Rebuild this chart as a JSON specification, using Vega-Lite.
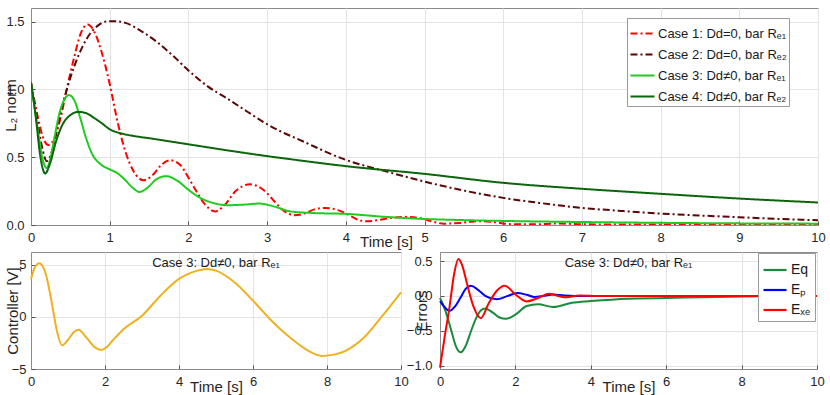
{
  "$schema": "https://vega.github.io/schema/vega-lite/v6.json",
  "padding": {"left": 2, "top": 7, "right": 5, "bottom": 0},
  "background": "white",
  "config": {
    "font": "Liberation Sans",
    "view": {"stroke": "#8a8a8a", "strokeWidth": 1},
    "axis": {"labelFontSize": 13, "labelColor": "#262626", "titleFontSize": 15, "titleFontWeight": "normal", "titleColor": "#262626", "domainColor": "#8a8a8a", "tickColor": "#555555", "gridColor": "#e3e3e3", "tickSize": -4, "labelPadding": 10, "labelFlush": false, "labelOverlap": false},
    "legend": {"labelFontSize": 13, "labelColor": "#1a1a1a", "fillColor": "white", "strokeColor": "#9a9a9a", "padding": 2, "symbolType": "stroke", "symbolStrokeWidth": 2.2, "title": null, "labelLimit": 300, "labelOffset": 3},
    "title": {"fontSize": 13, "fontWeight": "normal", "color": "#1a1a1a"}
  },
  "datasets": {
    "l2": [
      {"t":0,"v":1.05,"case":"Case 1: Dd=0, bar Rₑ₁"},{"t":0.05,"v":0.9,"case":"Case 1: Dd=0, bar Rₑ₁"},{"t":0.1,"v":0.76,"case":"Case 1: Dd=0, bar Rₑ₁"},{"t":0.15,"v":0.65,"case":"Case 1: Dd=0, bar Rₑ₁"},{"t":0.22,"v":0.59,"case":"Case 1: Dd=0, bar Rₑ₁"},{"t":0.3,"v":0.64,"case":"Case 1: Dd=0, bar Rₑ₁"},{"t":0.38,"v":0.8,"case":"Case 1: Dd=0, bar Rₑ₁"},{"t":0.45,"v":0.99,"case":"Case 1: Dd=0, bar Rₑ₁"},{"t":0.55,"v":1.24,"case":"Case 1: Dd=0, bar Rₑ₁"},{"t":0.63,"v":1.41,"case":"Case 1: Dd=0, bar Rₑ₁"},{"t":0.72,"v":1.478,"case":"Case 1: Dd=0, bar Rₑ₁"},{"t":0.8,"v":1.43,"case":"Case 1: Dd=0, bar Rₑ₁"},{"t":0.9,"v":1.27,"case":"Case 1: Dd=0, bar Rₑ₁"},{"t":1.0,"v":1.04,"case":"Case 1: Dd=0, bar Rₑ₁"},{"t":1.1,"v":0.76,"case":"Case 1: Dd=0, bar Rₑ₁"},{"t":1.2,"v":0.54,"case":"Case 1: Dd=0, bar Rₑ₁"},{"t":1.3,"v":0.4,"case":"Case 1: Dd=0, bar Rₑ₁"},{"t":1.43,"v":0.33,"case":"Case 1: Dd=0, bar Rₑ₁"},{"t":1.55,"v":0.37,"case":"Case 1: Dd=0, bar Rₑ₁"},{"t":1.65,"v":0.44,"case":"Case 1: Dd=0, bar Rₑ₁"},{"t":1.77,"v":0.477,"case":"Case 1: Dd=0, bar Rₑ₁"},{"t":1.9,"v":0.44,"case":"Case 1: Dd=0, bar Rₑ₁"},{"t":2.0,"v":0.35,"case":"Case 1: Dd=0, bar Rₑ₁"},{"t":2.1,"v":0.25,"case":"Case 1: Dd=0, bar Rₑ₁"},{"t":2.2,"v":0.16,"case":"Case 1: Dd=0, bar Rₑ₁"},{"t":2.34,"v":0.1,"case":"Case 1: Dd=0, bar Rₑ₁"},{"t":2.45,"v":0.14,"case":"Case 1: Dd=0, bar Rₑ₁"},{"t":2.6,"v":0.25,"case":"Case 1: Dd=0, bar Rₑ₁"},{"t":2.78,"v":0.3,"case":"Case 1: Dd=0, bar Rₑ₁"},{"t":2.95,"v":0.26,"case":"Case 1: Dd=0, bar Rₑ₁"},{"t":3.1,"v":0.17,"case":"Case 1: Dd=0, bar Rₑ₁"},{"t":3.2,"v":0.11,"case":"Case 1: Dd=0, bar Rₑ₁"},{"t":3.35,"v":0.072,"case":"Case 1: Dd=0, bar Rₑ₁"},{"t":3.5,"v":0.09,"case":"Case 1: Dd=0, bar Rₑ₁"},{"t":3.6,"v":0.115,"case":"Case 1: Dd=0, bar Rₑ₁"},{"t":3.74,"v":0.126,"case":"Case 1: Dd=0, bar Rₑ₁"},{"t":3.9,"v":0.11,"case":"Case 1: Dd=0, bar Rₑ₁"},{"t":4.05,"v":0.07,"case":"Case 1: Dd=0, bar Rₑ₁"},{"t":4.15,"v":0.04,"case":"Case 1: Dd=0, bar Rₑ₁"},{"t":4.27,"v":0.027,"case":"Case 1: Dd=0, bar Rₑ₁"},{"t":4.4,"v":0.035,"case":"Case 1: Dd=0, bar Rₑ₁"},{"t":4.55,"v":0.05,"case":"Case 1: Dd=0, bar Rₑ₁"},{"t":4.75,"v":0.06,"case":"Case 1: Dd=0, bar Rₑ₁"},{"t":4.95,"v":0.05,"case":"Case 1: Dd=0, bar Rₑ₁"},{"t":5.1,"v":0.025,"case":"Case 1: Dd=0, bar Rₑ₁"},{"t":5.25,"v":0.01,"case":"Case 1: Dd=0, bar Rₑ₁"},{"t":5.45,"v":0.015,"case":"Case 1: Dd=0, bar Rₑ₁"},{"t":5.7,"v":0.028,"case":"Case 1: Dd=0, bar Rₑ₁"},{"t":5.9,"v":0.02,"case":"Case 1: Dd=0, bar Rₑ₁"},{"t":6.1,"v":0.006,"case":"Case 1: Dd=0, bar Rₑ₁"},{"t":6.4,"v":0.005,"case":"Case 1: Dd=0, bar Rₑ₁"},{"t":6.7,"v":0.011,"case":"Case 1: Dd=0, bar Rₑ₁"},{"t":7.0,"v":0.005,"case":"Case 1: Dd=0, bar Rₑ₁"},{"t":7.5,"v":0.004,"case":"Case 1: Dd=0, bar Rₑ₁"},{"t":8.0,"v":0.003,"case":"Case 1: Dd=0, bar Rₑ₁"},{"t":9.0,"v":0.002,"case":"Case 1: Dd=0, bar Rₑ₁"},{"t":10.0,"v":0.002,"case":"Case 1: Dd=0, bar Rₑ₁"},
      {"t":0,"v":1.05,"case":"Case 2: Dd=0, bar Rₑ₂"},{"t":0.05,"v":0.88,"case":"Case 2: Dd=0, bar Rₑ₂"},{"t":0.1,"v":0.7,"case":"Case 2: Dd=0, bar Rₑ₂"},{"t":0.15,"v":0.55,"case":"Case 2: Dd=0, bar Rₑ₂"},{"t":0.2,"v":0.47,"case":"Case 2: Dd=0, bar Rₑ₂"},{"t":0.27,"v":0.55,"case":"Case 2: Dd=0, bar Rₑ₂"},{"t":0.35,"v":0.76,"case":"Case 2: Dd=0, bar Rₑ₂"},{"t":0.45,"v":0.99,"case":"Case 2: Dd=0, bar Rₑ₂"},{"t":0.55,"v":1.17,"case":"Case 2: Dd=0, bar Rₑ₂"},{"t":0.65,"v":1.31,"case":"Case 2: Dd=0, bar Rₑ₂"},{"t":0.75,"v":1.41,"case":"Case 2: Dd=0, bar Rₑ₂"},{"t":0.85,"v":1.47,"case":"Case 2: Dd=0, bar Rₑ₂"},{"t":0.95,"v":1.5,"case":"Case 2: Dd=0, bar Rₑ₂"},{"t":1.07,"v":1.503,"case":"Case 2: Dd=0, bar Rₑ₂"},{"t":1.2,"v":1.49,"case":"Case 2: Dd=0, bar Rₑ₂"},{"t":1.4,"v":1.43,"case":"Case 2: Dd=0, bar Rₑ₂"},{"t":1.6,"v":1.35,"case":"Case 2: Dd=0, bar Rₑ₂"},{"t":1.8,"v":1.25,"case":"Case 2: Dd=0, bar Rₑ₂"},{"t":2.0,"v":1.14,"case":"Case 2: Dd=0, bar Rₑ₂"},{"t":2.25,"v":1.02,"case":"Case 2: Dd=0, bar Rₑ₂"},{"t":2.5,"v":0.93,"case":"Case 2: Dd=0, bar Rₑ₂"},{"t":2.75,"v":0.835,"case":"Case 2: Dd=0, bar Rₑ₂"},{"t":3.0,"v":0.743,"case":"Case 2: Dd=0, bar Rₑ₂"},{"t":3.5,"v":0.605,"case":"Case 2: Dd=0, bar Rₑ₂"},{"t":4.0,"v":0.48,"case":"Case 2: Dd=0, bar Rₑ₂"},{"t":4.5,"v":0.397,"case":"Case 2: Dd=0, bar Rₑ₂"},{"t":5.0,"v":0.32,"case":"Case 2: Dd=0, bar Rₑ₂"},{"t":5.5,"v":0.254,"case":"Case 2: Dd=0, bar Rₑ₂"},{"t":6.0,"v":0.2,"case":"Case 2: Dd=0, bar Rₑ₂"},{"t":6.5,"v":0.16,"case":"Case 2: Dd=0, bar Rₑ₂"},{"t":7.0,"v":0.126,"case":"Case 2: Dd=0, bar Rₑ₂"},{"t":7.5,"v":0.104,"case":"Case 2: Dd=0, bar Rₑ₂"},{"t":8.0,"v":0.084,"case":"Case 2: Dd=0, bar Rₑ₂"},{"t":8.5,"v":0.07,"case":"Case 2: Dd=0, bar Rₑ₂"},{"t":9.0,"v":0.057,"case":"Case 2: Dd=0, bar Rₑ₂"},{"t":9.5,"v":0.045,"case":"Case 2: Dd=0, bar Rₑ₂"},{"t":10.0,"v":0.035,"case":"Case 2: Dd=0, bar Rₑ₂"},
      {"t":0,"v":1.05,"case":"Case 3: Dd≠0, bar Rₑ₁"},{"t":0.05,"v":0.85,"case":"Case 3: Dd≠0, bar Rₑ₁"},{"t":0.1,"v":0.65,"case":"Case 3: Dd≠0, bar Rₑ₁"},{"t":0.15,"v":0.48,"case":"Case 3: Dd≠0, bar Rₑ₁"},{"t":0.2,"v":0.42,"case":"Case 3: Dd≠0, bar Rₑ₁"},{"t":0.25,"v":0.5,"case":"Case 3: Dd≠0, bar Rₑ₁"},{"t":0.3,"v":0.65,"case":"Case 3: Dd≠0, bar Rₑ₁"},{"t":0.36,"v":0.82,"case":"Case 3: Dd≠0, bar Rₑ₁"},{"t":0.42,"v":0.92,"case":"Case 3: Dd≠0, bar Rₑ₁"},{"t":0.48,"v":0.958,"case":"Case 3: Dd≠0, bar Rₑ₁"},{"t":0.55,"v":0.92,"case":"Case 3: Dd≠0, bar Rₑ₁"},{"t":0.62,"v":0.8,"case":"Case 3: Dd≠0, bar Rₑ₁"},{"t":0.7,"v":0.64,"case":"Case 3: Dd≠0, bar Rₑ₁"},{"t":0.78,"v":0.52,"case":"Case 3: Dd≠0, bar Rₑ₁"},{"t":0.88,"v":0.45,"case":"Case 3: Dd≠0, bar Rₑ₁"},{"t":1.0,"v":0.41,"case":"Case 3: Dd≠0, bar Rₑ₁"},{"t":1.09,"v":0.385,"case":"Case 3: Dd≠0, bar Rₑ₁"},{"t":1.2,"v":0.33,"case":"Case 3: Dd≠0, bar Rₑ₁"},{"t":1.3,"v":0.27,"case":"Case 3: Dd≠0, bar Rₑ₁"},{"t":1.38,"v":0.244,"case":"Case 3: Dd≠0, bar Rₑ₁"},{"t":1.47,"v":0.27,"case":"Case 3: Dd≠0, bar Rₑ₁"},{"t":1.6,"v":0.34,"case":"Case 3: Dd≠0, bar Rₑ₁"},{"t":1.72,"v":0.36,"case":"Case 3: Dd≠0, bar Rₑ₁"},{"t":1.85,"v":0.33,"case":"Case 3: Dd≠0, bar Rₑ₁"},{"t":2.0,"v":0.26,"case":"Case 3: Dd≠0, bar Rₑ₁"},{"t":2.15,"v":0.2,"case":"Case 3: Dd≠0, bar Rₑ₁"},{"t":2.3,"v":0.165,"case":"Case 3: Dd≠0, bar Rₑ₁"},{"t":2.5,"v":0.146,"case":"Case 3: Dd≠0, bar Rₑ₁"},{"t":2.7,"v":0.15,"case":"Case 3: Dd≠0, bar Rₑ₁"},{"t":2.9,"v":0.158,"case":"Case 3: Dd≠0, bar Rₑ₁"},{"t":3.1,"v":0.135,"case":"Case 3: Dd≠0, bar Rₑ₁"},{"t":3.3,"v":0.1,"case":"Case 3: Dd≠0, bar Rₑ₁"},{"t":3.6,"v":0.088,"case":"Case 3: Dd≠0, bar Rₑ₁"},{"t":4.0,"v":0.082,"case":"Case 3: Dd≠0, bar Rₑ₁"},{"t":4.5,"v":0.06,"case":"Case 3: Dd≠0, bar Rₑ₁"},{"t":4.9,"v":0.047,"case":"Case 3: Dd≠0, bar Rₑ₁"},{"t":5.5,"v":0.036,"case":"Case 3: Dd≠0, bar Rₑ₁"},{"t":6.0,"v":0.03,"case":"Case 3: Dd≠0, bar Rₑ₁"},{"t":7.0,"v":0.022,"case":"Case 3: Dd≠0, bar Rₑ₁"},{"t":8.0,"v":0.016,"case":"Case 3: Dd≠0, bar Rₑ₁"},{"t":9.0,"v":0.012,"case":"Case 3: Dd≠0, bar Rₑ₁"},{"t":10.0,"v":0.01,"case":"Case 3: Dd≠0, bar Rₑ₁"},
      {"t":0,"v":1.05,"case":"Case 4: Dd≠0, bar Rₑ₂"},{"t":0.06,"v":0.8,"case":"Case 4: Dd≠0, bar Rₑ₂"},{"t":0.12,"v":0.5,"case":"Case 4: Dd≠0, bar Rₑ₂"},{"t":0.18,"v":0.38,"case":"Case 4: Dd≠0, bar Rₑ₂"},{"t":0.24,"v":0.45,"case":"Case 4: Dd≠0, bar Rₑ₂"},{"t":0.32,"v":0.62,"case":"Case 4: Dd≠0, bar Rₑ₂"},{"t":0.4,"v":0.74,"case":"Case 4: Dd≠0, bar Rₑ₂"},{"t":0.5,"v":0.81,"case":"Case 4: Dd≠0, bar Rₑ₂"},{"t":0.6,"v":0.834,"case":"Case 4: Dd≠0, bar Rₑ₂"},{"t":0.7,"v":0.825,"case":"Case 4: Dd≠0, bar Rₑ₂"},{"t":0.8,"v":0.79,"case":"Case 4: Dd≠0, bar Rₑ₂"},{"t":0.9,"v":0.75,"case":"Case 4: Dd≠0, bar Rₑ₂"},{"t":1.0,"v":0.706,"case":"Case 4: Dd≠0, bar Rₑ₂"},{"t":1.15,"v":0.675,"case":"Case 4: Dd≠0, bar Rₑ₂"},{"t":1.3,"v":0.657,"case":"Case 4: Dd≠0, bar Rₑ₂"},{"t":1.5,"v":0.64,"case":"Case 4: Dd≠0, bar Rₑ₂"},{"t":2.0,"v":0.595,"case":"Case 4: Dd≠0, bar Rₑ₂"},{"t":2.5,"v":0.55,"case":"Case 4: Dd≠0, bar Rₑ₂"},{"t":3.0,"v":0.508,"case":"Case 4: Dd≠0, bar Rₑ₂"},{"t":3.5,"v":0.47,"case":"Case 4: Dd≠0, bar Rₑ₂"},{"t":4.0,"v":0.434,"case":"Case 4: Dd≠0, bar Rₑ₂"},{"t":5.0,"v":0.377,"case":"Case 4: Dd≠0, bar Rₑ₂"},{"t":6.0,"v":0.311,"case":"Case 4: Dd≠0, bar Rₑ₂"},{"t":7.0,"v":0.267,"case":"Case 4: Dd≠0, bar Rₑ₂"},{"t":8.0,"v":0.23,"case":"Case 4: Dd≠0, bar Rₑ₂"},{"t":9.0,"v":0.195,"case":"Case 4: Dd≠0, bar Rₑ₂"},{"t":10.0,"v":0.166,"case":"Case 4: Dd≠0, bar Rₑ₂"}
    ],
    "ctrl": [
      {"t":0,"u":3.62},{"t":0.1,"u":4.7},{"t":0.23,"u":5.13},{"t":0.32,"u":4.8},{"t":0.4,"u":4.1},{"t":0.5,"u":2.5},{"t":0.6,"u":0.58},{"t":0.7,"u":-1.35},{"t":0.84,"u":-2.73},{"t":1.0,"u":-2.2},{"t":1.15,"u":-1.5},{"t":1.28,"u":-1.25},{"t":1.5,"u":-2.0},{"t":1.7,"u":-2.85},{"t":1.9,"u":-3.17},{"t":2.05,"u":-2.9},{"t":2.2,"u":-2.3},{"t":2.5,"u":-1.19},{"t":3.0,"u":0.1},{"t":3.5,"u":2.02},{"t":4.0,"u":3.62},{"t":4.5,"u":4.42},{"t":4.75,"u":4.58},{"t":5.0,"u":4.42},{"t":5.5,"u":3.3},{"t":6.0,"u":1.54},{"t":6.5,"u":-0.38},{"t":7.0,"u":-1.99},{"t":7.5,"u":-3.27},{"t":7.85,"u":-3.75},{"t":8.0,"u":-3.72},{"t":8.5,"u":-3.27},{"t":9.0,"u":-1.99},{"t":9.5,"u":0.1},{"t":10.0,"u":2.34}
    ],
    "err": [
      {"t":0,"e":-0.03,"s":"Eq"},{"t":0.1,"e":-0.15,"s":"Eq"},{"t":0.2,"e":-0.31,"s":"Eq"},{"t":0.3,"e":-0.5,"s":"Eq"},{"t":0.42,"e":-0.72,"s":"Eq"},{"t":0.55,"e":-0.81,"s":"Eq"},{"t":0.68,"e":-0.72,"s":"Eq"},{"t":0.8,"e":-0.54,"s":"Eq"},{"t":0.95,"e":-0.33,"s":"Eq"},{"t":1.08,"e":-0.21,"s":"Eq"},{"t":1.2,"e":-0.18,"s":"Eq"},{"t":1.4,"e":-0.24,"s":"Eq"},{"t":1.58,"e":-0.31,"s":"Eq"},{"t":1.75,"e":-0.33,"s":"Eq"},{"t":2.0,"e":-0.27,"s":"Eq"},{"t":2.3,"e":-0.145,"s":"Eq"},{"t":2.6,"e":-0.12,"s":"Eq"},{"t":3.0,"e":-0.16,"s":"Eq"},{"t":3.5,"e":-0.1,"s":"Eq"},{"t":4.0,"e":-0.075,"s":"Eq"},{"t":5.0,"e":-0.04,"s":"Eq"},{"t":6.0,"e":-0.03,"s":"Eq"},{"t":7.0,"e":-0.02,"s":"Eq"},{"t":8.0,"e":-0.01,"s":"Eq"},{"t":9.0,"e":-0.005,"s":"Eq"},{"t":10.0,"e":0,"s":"Eq"},
      {"t":0,"e":-0.075,"s":"Eₚ"},{"t":0.12,"e":-0.16,"s":"Eₚ"},{"t":0.25,"e":-0.215,"s":"Eₚ"},{"t":0.4,"e":-0.15,"s":"Eₚ"},{"t":0.55,"e":-0.02,"s":"Eₚ"},{"t":0.68,"e":0.1,"s":"Eₚ"},{"t":0.82,"e":0.145,"s":"Eₚ"},{"t":1.0,"e":0.09,"s":"Eₚ"},{"t":1.2,"e":0.0,"s":"Eₚ"},{"t":1.5,"e":-0.05,"s":"Eₚ"},{"t":1.8,"e":0.0,"s":"Eₚ"},{"t":2.05,"e":0.04,"s":"Eₚ"},{"t":2.3,"e":0.015,"s":"Eₚ"},{"t":2.5,"e":-0.015,"s":"Eₚ"},{"t":2.75,"e":0.0,"s":"Eₚ"},{"t":3.0,"e":0.02,"s":"Eₚ"},{"t":3.3,"e":0.005,"s":"Eₚ"},{"t":3.6,"e":0.0,"s":"Eₚ"},{"t":4.5,"e":0.0,"s":"Eₚ"},{"t":10.0,"e":0.0,"s":"Eₚ"},
      {"t":0,"e":-1.03,"s":"Eₓₑ"},{"t":0.12,"e":-0.6,"s":"Eₓₑ"},{"t":0.25,"e":-0.17,"s":"Eₓₑ"},{"t":0.37,"e":0.3,"s":"Eₓₑ"},{"t":0.49,"e":0.53,"s":"Eₓₑ"},{"t":0.6,"e":0.42,"s":"Eₓₑ"},{"t":0.7,"e":0.21,"s":"Eₓₑ"},{"t":0.9,"e":-0.17,"s":"Eₓₑ"},{"t":1.08,"e":-0.32,"s":"Eₓₑ"},{"t":1.3,"e":-0.1,"s":"Eₓₑ"},{"t":1.5,"e":0.07,"s":"Eₓₑ"},{"t":1.72,"e":0.145,"s":"Eₓₑ"},{"t":2.0,"e":0.02,"s":"Eₓₑ"},{"t":2.3,"e":-0.08,"s":"Eₓₑ"},{"t":2.6,"e":-0.03,"s":"Eₓₑ"},{"t":2.9,"e":0.03,"s":"Eₓₑ"},{"t":3.3,"e":-0.02,"s":"Eₓₑ"},{"t":3.7,"e":0.005,"s":"Eₓₑ"},{"t":4.2,"e":0.0,"s":"Eₓₑ"},{"t":10.0,"e":0.0,"s":"Eₓₑ"}
    ]
  },
  "vconcat": [
    {
      "width": 787, "height": 217,
      "data": {"name": "l2"},
      "mark": {"type": "line", "strokeWidth": 2, "interpolate": "monotone", "clip": true},
      "encoding": {
        "x": {"field": "t", "type": "quantitative", "scale": {"domain": [0, 10], "nice": false}, "axis": {"values": [0,1,2,3,4,5,6,7,8,9,10], "title": "Time [s]", "titleX": 355, "titleY": 21, "titleBaseline": "alphabetic", "titleAnchor": null}},
        "y": {"field": "v", "type": "quantitative", "scale": {"domain": [0, 1.6], "nice": false}, "axis": {"values": [0, 0.5, 1, 1.5], "title": "L₂ norm", "titleX": -21, "titleY": 97, "titleBaseline": "middle", "labelPadding": 11}},
        "color": {"field": "case", "type": "nominal", "sort": null, "scale": {"domain": ["Case 1: Dd=0, bar Rₑ₁", "Case 2: Dd=0, bar Rₑ₂", "Case 3: Dd≠0, bar Rₑ₁", "Case 4: Dd≠0, bar Rₑ₂"], "range": ["#ff0000", "#5e0505", "#1ecb1e", "#0b660b"]}, "legend": {"orient": "none", "legendX": 596, "legendY": 10, "rowPadding": 0, "symbolSize": 576, "labelOffset": 2}},
        "strokeDash": {"field": "case", "type": "nominal", "sort": null, "scale": {"domain": ["Case 1: Dd=0, bar Rₑ₁", "Case 2: Dd=0, bar Rₑ₂", "Case 3: Dd≠0, bar Rₑ₁", "Case 4: Dd≠0, bar Rₑ₂"], "range": [[7, 3, 2, 3], [7, 3, 2, 3], [1, 0], [1, 0]]}, "legend": {"orient": "none", "legendX": 596, "legendY": 10, "rowPadding": 0, "symbolSize": 576, "labelOffset": 2}}
      }
    },
    {
      "hconcat": [
        {
          "width": 370, "height": 117,
          "title": {"text": "Case 3: Dd≠0, bar Rₑ₁", "offset": -28, "baseline": "alphabetic"},
          "data": {"name": "ctrl"},
          "mark": {"type": "line", "strokeWidth": 2, "color": "#edb120", "interpolate": "monotone"},
          "encoding": {
            "x": {"field": "t", "type": "quantitative", "scale": {"domain": [0, 10], "nice": false}, "axis": {"values": [0,2,4,6,8,10], "title": "Time [s]", "titleY": 22, "titleBaseline": "alphabetic"}},
            "y": {"field": "u", "type": "quantitative", "scale": {"domain": [-5, 6.2], "nice": false}, "axis": {"values": [-5, 0, 5], "title": "Controller [V]", "titleX": -19, "titleBaseline": "middle", "labelPadding": 9}}
          }
        },
        {
          "width": 377, "height": 117,
          "title": {"text": "Case 3: Dd≠0, bar Rₑ₁", "offset": -28, "baseline": "alphabetic"},
          "data": {"name": "err"},
          "mark": {"type": "line", "strokeWidth": 2, "interpolate": "monotone"},
          "encoding": {
            "x": {"field": "t", "type": "quantitative", "scale": {"domain": [0, 10], "nice": false}, "axis": {"values": [0,2,4,6,8,10], "title": "Time [s]", "titleY": 22, "titleBaseline": "alphabetic"}},
            "y": {"field": "e", "type": "quantitative", "scale": {"domain": [-1.05, 0.63], "nice": false}, "axis": {"values": [-1, -0.5, 0, 0.5], "title": "Errors", "titleX": -19, "titleBaseline": "middle", "labelPadding": 12}},
            "color": {"field": "s", "type": "nominal", "sort": null, "scale": {"domain": ["Eq", "Eₚ", "Eₓₑ"], "range": ["#1b8a3b", "#0000ff", "#ff0000"]}, "legend": {"orient": "none", "legendX": 318, "legendY": 1, "rowPadding": 0, "padding": 4, "symbolSize": 529, "labelFontSize": 14}}
          }
        }
      ],
      "spacing": 39,
      "bounds": "flush",
      "resolve": {"scale": {"color": "independent"}, "legend": {"color": "independent"}}
    }
  ],
  "spacing": 27,
  "bounds": "flush",
  "resolve": {"scale": {"color": "independent", "strokeDash": "independent"}, "legend": {"color": "independent", "strokeDash": "independent"}}
}
